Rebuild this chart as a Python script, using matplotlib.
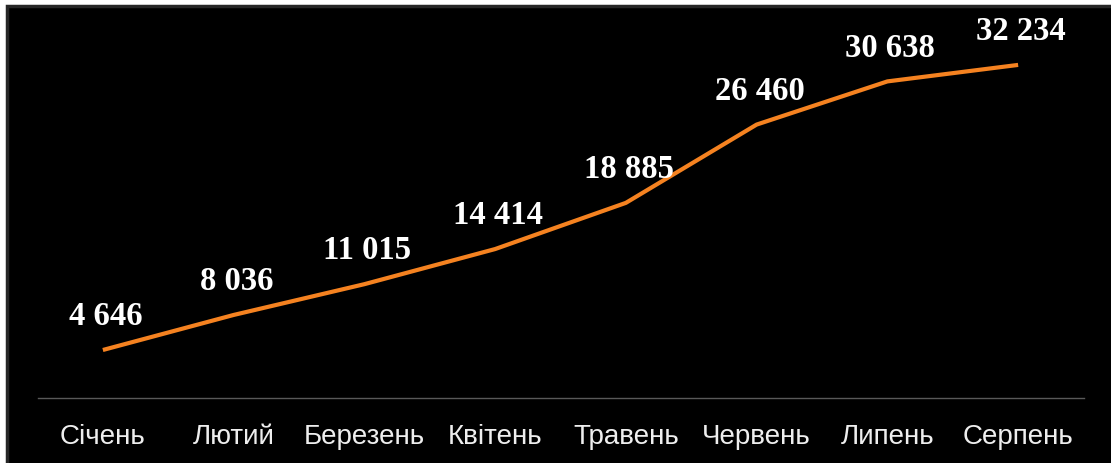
import matplotlib.pyplot as plt
from matplotlib.patches import Rectangle

months = ["Січень", "Лютий", "Березень", "Квітень", "Травень", "Червень", "Липень", "Серпень"]
totals = [4646, 8036, 11015, 14414, 18885, 26460, 30638, 32234]
labels = ["4 646", "8 036", "11 015", "14 414", "18 885", "26 460", "30 638", "32 234"]

W, H = 1111, 463
fig = plt.figure(figsize=(W / 100, H / 100), dpi=100)
fig.patch.set_facecolor("white")

# black slide panel with a thin dark frame, kept behind the axes
bg = fig.add_axes([0, 0, 1, 1], zorder=-10)
bg.set_axis_off()
bg.set_xlim(0, W)
bg.set_ylim(H, 0)
bg.add_patch(Rectangle((7, 6), W - 7 + 5, H - 6 + 5, facecolor="black",
                       edgecolor="#262626", linewidth=2.5))

ax = fig.add_axes([37.5 / W, 65 / H, (1083.5 - 37.5) / W, (398 - 26) / H])
ax.set_facecolor("none")

x = list(range(len(months)))
ax.plot(x, totals, color="#F58220", linewidth=3, solid_capstyle="butt", solid_joinstyle="round")

for xi, v, lab in zip(x, totals, labels):
    ax.annotate(lab, (xi, v), xytext=(2, 24), textcoords="offset points",
                ha="center", va="center", color="white", fontsize=23.5,
                fontweight="bold", family="Liberation Serif")

ax.set_xlim(-0.5, len(months) - 0.5)
ax.set_ylim(0, 36000)
ax.set_xticks(x)
ax.set_xticklabels(months, color="#eeeeee", fontsize=20, family="Liberation Sans")
ax.tick_params(axis="x", length=0, pad=19)
ax.set_yticks([])
for s in ["top", "left", "right"]:
    ax.spines[s].set_visible(False)
ax.spines["bottom"].set_color("#595959")
ax.spines["bottom"].set_linewidth(1)

fig.savefig("out.png", dpi=100, facecolor=fig.get_facecolor())
